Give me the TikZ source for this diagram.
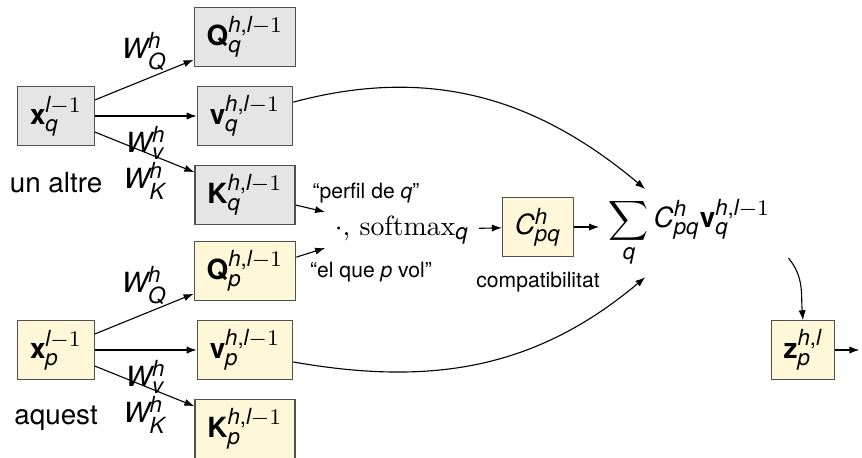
\documentclass[tikz,border=0pt]{standalone}
\usepackage{fontspec}
\setmainfont{TeX Gyre Heros}
\newfontfamily\lmroman{Latin Modern Roman}
\usepackage[italic]{mathastext}
\usepackage{tikz}
\usetikzlibrary{positioning, arrows.meta, calc}
\definecolor{tokgray}{HTML}{E5E5E5}
\definecolor{tokyellow}{HTML}{FFF8D8}
\definecolor{tokline}{HTML}{505050}
\newcommand\mmn{\mathchar"2200\relax}

\begin{document}
\begin{tikzpicture}[
  x=0.36pt, y=0.36pt,
  tok/.style={
    rectangle, draw=tokline, fill=#1,
    minimum height=21pt, inner xsep=4.5pt, inner ysep=3pt
  },
  lbl/.style={font=\normalsize, inner sep=2pt},
  note/.style={font=\fontsize{7.6}{9}\selectfont},
  arr/.style={-{Latex[length=3.6pt,width=2.6pt]}, line width=0.4pt},
]
\useasboundingbox (0,0) rectangle (862,-457);

% token q (un altre)
\node[tok=tokgray] (xq) at (56,-116) {$\mathbf{x}_q^{l\mmn1}$};
\node[below=6pt of xq] (uq) {un altre};
\node[tok=tokgray] (Qq) at (245,-37) {$\mathbf{Q}_q^{h,l\mmn1}$};
\node[tok=tokgray] (vq) at (245,-116) {$\mathbf{v}_q^{h,l\mmn1}$};
\node[tok=tokgray] (Kq) at (245,-195) {$\mathbf{K}_q^{h,l\mmn1}$};

\draw[arr] ([yshift=5.8pt]xq.east) -- ([yshift=2.5pt]Qq.south west)
  node[lbl, midway, above=1pt] {$W_Q^h$};
\draw[arr] (xq.east) -- (vq.west)
  node[lbl, midway, below=1.5pt] {$W_v^h$};
\draw[arr] ([yshift=-5.8pt]xq.east) -- ([yshift=-2.5pt]Kq.north west)
  node[lbl, midway, below=1.5pt] {$W_K^h$};

% token p (aquest)
\node[tok=tokyellow] (xp) at (56,-350) {$\mathbf{x}_p^{l\mmn1}$};
\node[below=6pt of xp] (up) {aquest};
\node[tok=tokyellow] (Qp) at (245,-271) {$\mathbf{Q}_p^{h,l\mmn1}$};
\node[tok=tokyellow] (vp) at (245,-350) {$\mathbf{v}_p^{h,l\mmn1}$};
\node[tok=tokyellow] (Kp) at (245,-429) {$\mathbf{K}_p^{h,l\mmn1}$};

\draw[arr] ([yshift=5.8pt]xp.east) -- ([yshift=2.5pt]Qp.south west)
  node[lbl, midway, above=1pt] {$W_Q^h$};
\draw[arr] (xp.east) -- (vp.west)
  node[lbl, midway, below=1.5pt] {$W_v^h$};
\draw[arr] ([yshift=-5.8pt]xp.east) -- ([yshift=-2.5pt]Kp.north west)
  node[lbl, midway, below=1.5pt] {$W_K^h$};

% compatibilitat
\node (soft) at (402,-230) {{\lmroman$\cdot$, softmax}${}_q$};
\node[note] (perfil) at (366,-193) {``perfil de $q$''};
\node[note] (vol) at (371,-272) {``el que $p$ vol''};
\draw[arr] ([yshift=-3.6pt]Kq.east) -- ([yshift=6.5pt]soft.west);
\draw[arr] ([yshift=5pt]Qp.east) -- ([yshift=-6.5pt]soft.west);

\node[tok=tokyellow] (C) at (538,-227) {$C_{pq}^h$};
\node[note, below=2pt of C] (compat) {compatibilitat};
\draw[arr] (soft) -- (C);

% suma ponderada
\node[right=9pt of C, yshift=-2.2pt] (agg) {$\displaystyle\sum_q C_{pq}^h\mathbf{v}_q^{h,l\mmn1}$};
\draw[arr] (C) -- (C -| agg.west);
\draw[arr] ([yshift=5pt]vq.east) to[out=15, in=140] ([xshift=-16pt]agg.north);
\draw[arr] ([yshift=-4.3pt]vp.east) to[out=-10, in=-140] ([xshift=-16pt]agg.south);

% sortida
\node[tok=tokyellow] (z) at (803,-350) {$\mathbf{z}_p^{h,l}$};
\coordinate[right=8.6pt of z] (zend);
\draw[arr] ([xshift=3pt, yshift=-9pt]agg.east) to[out=-50, in=95] (z.north);
\draw[arr] (z) -- (zend);

\end{tikzpicture}
\end{document}
